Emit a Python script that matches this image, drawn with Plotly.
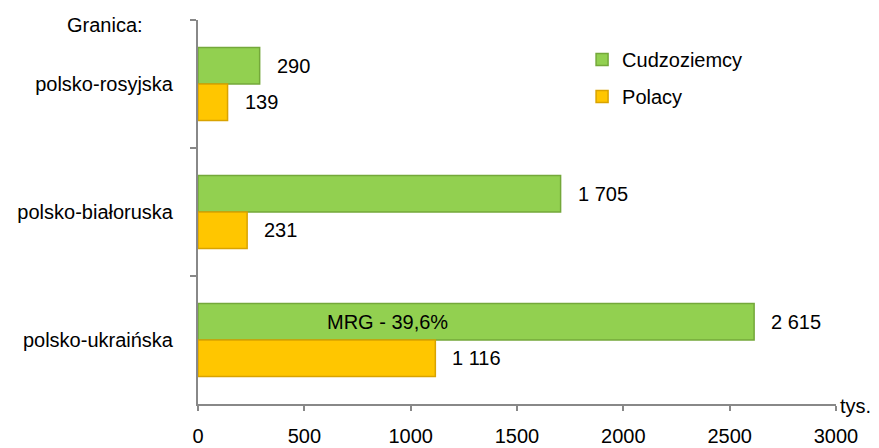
import plotly.graph_objects as go

categories = ["polsko-rosyjska", "polsko-białoruska", "polsko-ukraińska"]
cudzoziemcy = [290, 1705, 2615]
polacy = [139, 231, 1116]
series_names = ["Cudzoziemcy", "Polacy"]
x_ticks = [0, 500, 1000, 1500, 2000, 2500, 3000]
mrg_text = "MRG - 39,6%"
mrg_x = 893


def fmt(v):
    return f"{v:,}".replace(",", " ")


FONT = "Liberation Sans, Arial, sans-serif"
FS = 20

fig = go.Figure()
fig.add_trace(go.Bar(
    y=categories, x=cudzoziemcy, orientation="h", name=series_names[0], legendgroup="a",
    marker=dict(color="#92D050", line=dict(color="#74A83A", width=1.5)),
))
fig.add_trace(go.Bar(
    y=categories, x=polacy, orientation="h", name=series_names[1], legendgroup="b",
    marker=dict(color="#FFC600", line=dict(color="#D9A300", width=1.5)),
))

for i, c in enumerate(categories):
    fig.add_annotation(x=cudzoziemcy[i], y=c, xanchor="left", xshift=15, yshift=18,
                       text=fmt(cudzoziemcy[i]), showarrow=False,
                       font=dict(size=FS, color="black", family=FONT))
    fig.add_annotation(x=polacy[i], y=c, xanchor="left", xshift=15, yshift=-18,
                       text=fmt(polacy[i]), showarrow=False,
                       font=dict(size=FS, color="black", family=FONT))

fig.add_annotation(x=mrg_x, y=categories[2], yshift=18, text=mrg_text, showarrow=False,
                   font=dict(size=FS, color="black", family=FONT))
fig.add_annotation(xref="paper", yref="paper", x=1.0, y=0, xanchor="left", yanchor="middle",
                   xshift=2, yshift=-2, text="tys.", showarrow=False,
                   font=dict(size=FS, color="black", family=FONT))
fig.add_annotation(xref="paper", yref="paper", x=-0.146, y=1.0, xanchor="center", yanchor="middle",
                   yshift=-5, text="Granica:", showarrow=False,
                   font=dict(size=FS, color="black", family=FONT))

fig.update_layout(
    width=879, height=448,
    margin=dict(l=198, r=43, t=20, b=44, autoexpand=False),
    plot_bgcolor="white", paper_bgcolor="white",
    barmode="group", bargap=0.43, bargroupgap=0,
    font=dict(family=FONT, size=FS, color="black"),
    legend=dict(x=0.602, y=0.948, xanchor="left", yanchor="top",
                font=dict(size=FS, color="black", family=FONT),
                bgcolor="rgba(0,0,0,0)", itemwidth=30, tracegroupgap=8),
    showlegend=True,
    xaxis=dict(range=[0, 3000], tickvals=x_ticks, ticktext=[str(t) for t in x_ticks],
               automargin=False,
               showgrid=False, zeroline=False, showline=True, linecolor="#888888",
               linewidth=2, ticks="outside", ticklen=5, tickcolor="#888888", tickwidth=2,
               ticklabelstandoff=8, tickfont=dict(size=FS, color="black")),
    yaxis=dict(categoryorder="array", categoryarray=categories, autorange="reversed",
               automargin=False,
               showgrid=False, showline=True, linecolor="#888888", linewidth=2,
               ticks="outside", ticklen=6, tickcolor="#888888", tickwidth=2,
               tickson="boundaries", ticklabelstandoff=19,
               tickfont=dict(size=FS, color="black")),
)

fig.write_html("out.html", config={"displayModeBar": False},
               post_script="document.body.style.margin='0';document.body.style.padding='0';")
